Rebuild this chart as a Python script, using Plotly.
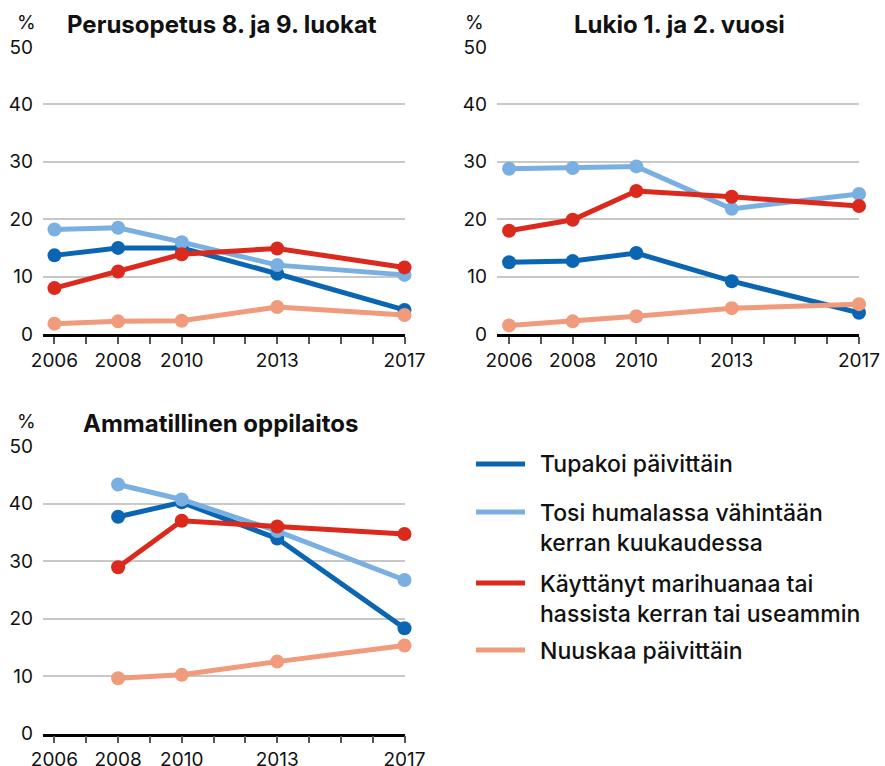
import plotly.graph_objects as go

# ---------------- data ----------------
years = [2006, 2008, 2010, 2013, 2017]
years_amm = [2008, 2010, 2013, 2017]
tick_years = list(range(2006, 2018))
tick_labels = ["2006", "", "2008", "", "2010", "", "", "2013", "", "", "", "2017"]
y_ticks = [0, 10, 20, 30, 40, 50]

series_names = [
    "Tupakoi päivittäin",
    "Tosi humalassa vähintään<br>kerran kuukaudessa",
    "Käyttänyt marihuanaa tai<br>hassista kerran tai useammin",
    "Nuuskaa päivittäin",
]
series_colors = ["#0a66b3", "#7aafe1", "#db2a1d", "#f09b7b"]

panel_titles = ["Perusopetus 8. ja 9. luokat", "Lukio 1. ja 2. vuosi", "Ammatillinen oppilaitos"]

peruskoulu_tupakoi = [13.7, 15.0, 15.0, 10.5, 4.2]
peruskoulu_humala = [18.2, 18.5, 16.0, 12.0, 10.3]
peruskoulu_marihuana = [8.0, 10.9, 13.9, 14.9, 11.6]
peruskoulu_nuuska = [1.8, 2.2, 2.3, 4.7, 3.3]

lukio_tupakoi = [12.5, 12.7, 14.1, 9.2, 3.7]
lukio_humala = [28.8, 28.9, 29.2, 21.8, 24.4]
lukio_marihuana = [18.0, 19.9, 24.9, 23.9, 22.3]
lukio_nuuska = [1.5, 2.2, 3.1, 4.5, 5.2]

amm_tupakoi = [37.7, 40.2, 33.9, 18.3]
amm_humala = [43.3, 40.7, 35.2, 26.7]
amm_marihuana = [28.9, 37.0, 36.0, 34.7]
amm_nuuska = [9.6, 10.2, 12.5, 15.3]

panels = [
    (years, [peruskoulu_tupakoi, peruskoulu_humala, peruskoulu_marihuana, peruskoulu_nuuska]),
    (years, [lukio_tupakoi, lukio_humala, lukio_marihuana, lukio_nuuska]),
    (years_amm, [amm_tupakoi, amm_humala, amm_marihuana, amm_nuuska]),
]

# ---------------- layout geometry ----------------
W, H = 885, 766
FONT = "Inter, Roboto, sans-serif"
TEXT = "#111111"

def px_x(p):
    return p / W

def px_y(p):
    return 1 - p / H

# (x0px, x1px, y_bottom_px, y_top_px, x_range_start)
geom = [
    (43, 404.5, 334, 47, 2005.64),
    (497, 859, 334, 47, 2005.62),
    (43, 404.5, 733.5, 446, 2005.64),
]

fig = go.Figure()

for i, ((xs, vals), g) in enumerate(zip(panels, geom)):
    sfx = "" if i == 0 else str(i + 1)
    for name, color, v in zip(series_names, series_colors, vals):
        fig.add_trace(go.Scatter(
            x=xs, y=v, mode="lines+markers", name=name.replace("<br>", " "),
            line=dict(color=color, width=5),
            marker=dict(color=color, size=14),
            xaxis="x" + sfx, yaxis="y" + sfx,
            showlegend=False, cliponaxis=False,
        ))
    x0, x1, yb, yt, xr0 = g
    fig.layout["xaxis" + sfx] = dict(
        domain=[px_x(x0), px_x(x1)], anchor="y" + sfx,
        range=[xr0, 2017], tickvals=tick_years, ticktext=tick_labels,
        ticks="outside", ticklen=7, tickwidth=1.5, tickcolor="#555555",
        showline=True, linecolor="#000000", linewidth=2.5,
        showgrid=False, zeroline=False, automargin=False,
        tickfont=dict(family=FONT, size=19, color=TEXT),
        fixedrange=True,
    )
    fig.layout["yaxis" + sfx] = dict(
        domain=[px_y(yb), px_y(yt)], anchor="x" + sfx,
        range=[0, 50], tickvals=y_ticks,
        showgrid=True, gridcolor="#c8c8c8", gridwidth=1.5,
        zeroline=False, showline=False, ticks="", automargin=False,
        ticklabelstandoff=9,
        tickfont=dict(family=FONT, size=19, color=TEXT),
        fixedrange=True,
    )

annotations = []
shapes = []
# panel titles and % labels
title_pos = [(222, 24, 26, 22), (679, 24, 474, 22), (220, 423, 26, 421)]
for t, (tx, ty, px_, py_) in zip(panel_titles, title_pos):
    annotations.append(dict(
        text="<b>" + t + "</b>", x=px_x(tx), y=px_y(ty), xref="paper", yref="paper",
        xanchor="center", yanchor="middle", showarrow=False,
        font=dict(family=FONT, size=24, color=TEXT),
    ))
    annotations.append(dict(
        text="%", x=px_x(px_), y=px_y(py_), xref="paper", yref="paper",
        xanchor="center", yanchor="middle", showarrow=False,
        font=dict(family=FONT, size=19, color=TEXT),
    ))

# legend (drawn manually)
legend_rows = [464, 512, 583, 650]
for name, color, ly in zip(series_names, series_colors, legend_rows):
    shapes.append(dict(
        type="line", xref="paper", yref="paper",
        x0=px_x(476), x1=px_x(525), y0=px_y(ly), y1=px_y(ly),
        line=dict(color=color, width=5),
    ))
    annotations.append(dict(
        text=name, x=px_x(538), y=px_y(ly - 15.5), xref="paper", yref="paper",
        xanchor="left", yanchor="top", align="left", showarrow=False,
        font=dict(family=FONT, size=23, color=TEXT, weight=500),
    ))

fig.update_layout(
    width=W, height=H,
    margin=dict(l=0, r=0, t=0, b=0, autoexpand=False),
    paper_bgcolor="white", plot_bgcolor="white",
    annotations=annotations, shapes=shapes,
    showlegend=False,
    font=dict(family=FONT, color=TEXT),
)

fig.write_html("out.html", config={"displayModeBar": False},
               post_script="document.body.style.margin='0';")
